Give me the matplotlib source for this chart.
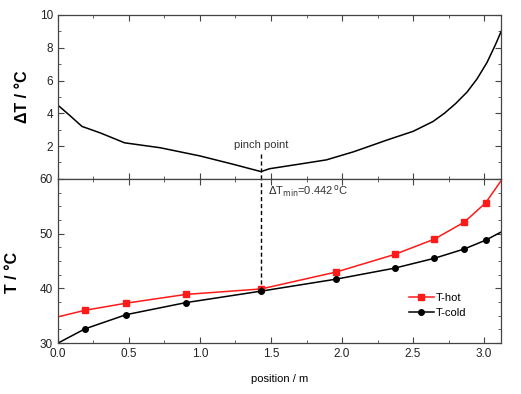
import matplotlib
matplotlib.use("Agg")
import matplotlib.pyplot as plt
from matplotlib.ticker import MultipleLocator

plt.rcParams["font.family"] = ["Liberation Sans", "DejaVu Sans"]

# upper panel: temperature difference along the exchanger
dt_pos = [0.0, 0.08, 0.17, 0.30, 0.47, 0.72, 1.00, 1.23, 1.43, 1.49, 1.70, 1.89,
          2.08, 2.32, 2.50, 2.64, 2.72, 2.80, 2.88, 2.95, 3.02, 3.08, 3.12]
dt_val = [4.5, 3.9, 3.2, 2.8, 2.2, 1.9, 1.4, 0.9, 0.442, 0.62, 0.9, 1.16,
          1.65, 2.38, 2.9, 3.5, 4.0, 4.6, 5.3, 6.1, 7.1, 8.2, 9.0]

# lower panel: hot and cold stream temperatures
pos = [0.0, 0.19, 0.48, 0.90, 1.43, 1.96, 2.37, 2.65, 2.86, 3.01, 3.12]
t_hot = [34.8, 36.0, 37.3, 38.9, 39.9, 43.0, 46.2, 49.0, 52.1, 55.6, 59.7]
t_cold = [30.0, 32.6, 35.2, 37.4, 39.5, 41.7, 43.7, 45.5, 47.2, 48.8, 50.3]

pinch_x = 1.43
pinch_dt = 0.442

fig = plt.figure(figsize=(5.21, 3.94), dpi=100)
ax_top = fig.add_axes([0.111, 0.546, 0.851, 0.416])
ax_bot = fig.add_axes([0.111, 0.129, 0.851, 0.417], sharex=ax_top)

spine_c = "#444444"
for ax in (ax_top, ax_bot):
    for s in ax.spines.values():
        s.set_color(spine_c)
        s.set_linewidth(0.9)
    ax.tick_params(which="both", direction="in", top=True, right=True,
                   colors=spine_c, labelcolor="#222222", labelsize=8.5)
    ax.tick_params(which="major", length=4)
    ax.tick_params(which="minor", length=2)
    ax.xaxis.set_major_locator(MultipleLocator(0.5))
    ax.xaxis.set_minor_locator(MultipleLocator(0.25))

ax_top.plot(dt_pos, dt_val, color="black", lw=1.1)
ax_top.plot([pinch_x, pinch_x], [0, 1.55], color="black", lw=1, ls=(0, (3, 2)))
ax_top.set_ylim(0, 10)
ax_top.set_xlim(0, 3.12)
ax_top.yaxis.set_major_locator(MultipleLocator(2))
ax_top.yaxis.set_minor_locator(MultipleLocator(1))
ax_top.set_yticks([2, 4, 6, 8, 10])
ax_top.tick_params(labelbottom=False)
ax_top.set_ylabel("ΔT / °C", fontsize=11.5, fontweight="bold", labelpad=7)
ax_top.text(pinch_x, 1.75, "pinch point", ha="center", va="bottom", fontsize=8,
            color="#333333")

ax_bot.plot(pos, t_hot, color="#ff1a1a", lw=1.1, marker="s", ms=4,
            markevery=list(range(1, len(pos) - 1)), label="T-hot")
ax_bot.plot(pos, t_cold, color="black", lw=1.1, marker="o", ms=4,
            markevery=list(range(1, len(pos) - 1)), label="T-cold")
ax_bot.plot([pinch_x, pinch_x], [39.5, 60], color="black", lw=1, ls=(0, (3, 2)))
ax_bot.set_ylim(30, 60)
ax_bot.yaxis.set_major_locator(MultipleLocator(10))
ax_bot.yaxis.set_minor_locator(MultipleLocator(2.5))
ax_bot.set_ylabel("T / °C", fontsize=11.5, fontweight="bold", labelpad=9)
ax_bot.yaxis.set_label_coords(-0.085, 0.43)
ax_bot.set_xlabel("position / m", fontsize=8, labelpad=10)
ax_bot.text(pinch_x + 0.05, 57.7, r"$\Delta$T$_{\mathrm{min}}$=0.442$\,^{\mathrm{o}}$C",
            ha="left", va="center", fontsize=8, color="#333333")
ax_bot.legend(loc="lower left", bbox_to_anchor=(0.77, 0.09), frameon=False,
              fontsize=8, handlelength=2.2, handletextpad=0.2, labelspacing=0.45)

fig.savefig("out.png", dpi=100)
